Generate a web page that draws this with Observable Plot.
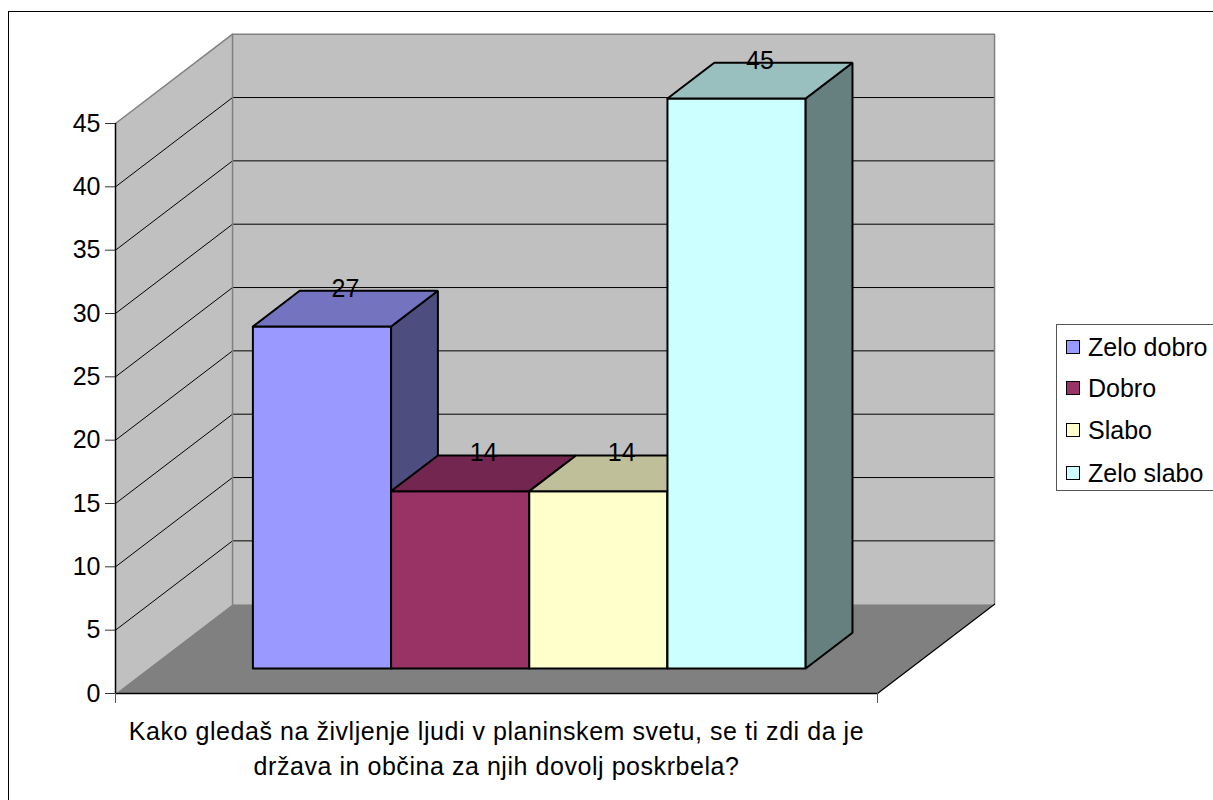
<!DOCTYPE html>
<html><head><meta charset="utf-8">
<script src="https://cdn.jsdelivr.net/npm/d3@7"></script>
<script src="https://cdn.jsdelivr.net/npm/@observablehq/plot@0.6"></script>
<style>
body{margin:0;background:#fff;}
#wrap{position:relative;width:1213px;height:800px;overflow:hidden;font-family:"Liberation Sans",Arial,sans-serif;background:#fff;}
#frame{position:absolute;left:8px;top:11px;width:1400px;height:1000px;border:1px solid #000;box-sizing:border-box;}
#chart{position:absolute;left:0;top:0;}
#legend{position:absolute;left:1056px;top:324px;width:220px;height:167px;border:1.5px solid #555;background:#fff;box-sizing:border-box;}
.item{position:absolute;left:9px;height:30px;display:flex;align-items:center;font-size:25px;color:#000;white-space:nowrap;}
.sw{width:12px;height:12px;border:1.5px solid #000;margin-right:8px;flex:none;}
</style>
</head><body>
<div id="wrap"><div id="frame"></div><div id="chart"></div><div id="legend"></div></div>
<script>
const categories = ["Zelo dobro", "Dobro", "Slabo", "Zelo slabo"];
const values = [27, 14, 14, 45];
const frontColors = ["#9999ff", "#993366", "#ffffcc", "#ccffff"];
const topColors = ["#7373bf", "#732650", "#bfbf99", "#99bfbf"];
const sideColors = ["#4d4d80", "#4d1933", "#808066", "#668080"];
const yTicks = [0, 5, 10, 15, 20, 25, 30, 35, 40, 45];
const axisTitle = "Kako gledaš na življenje ljudi v planinskem svetu, se ti zdi da je\ndržava in občina za njih dovolj poskrbela?";

// 3D layout parameters (in data units)
const gap = 0.757;               // gap on each side of bar group (bar widths)
const W = categories.length + 2 * gap;
const DX = 0.847, DY = 7.05;     // depth offset of back plane
const z0 = 0.28, z1 = 0.68;      // bar depth
const yMax = yTicks[yTicks.length - 1];
const P = (x, v, z) => ({x: x + z * DX, y: v + z * DY});
const poly = pts => [...pts, pts[0]];

const marks = [];
// walls & floor
marks.push(Plot.line(poly([P(0,0,0), P(0,yMax,0), P(0,yMax,1), P(0,0,1)]), {x:"x", y:"y", fill:"#c0c0c0", stroke:"none"}));
marks.push(Plot.line(poly([P(0,0,1), P(0,yMax,1), P(W,yMax,1), P(W,0,1)]), {x:"x", y:"y", fill:"#c0c0c0", stroke:"none"}));
marks.push(Plot.line(poly([P(0,0,0), P(W,0,0), P(W,0,1), P(0,0,1)]), {x:"x", y:"y", fill:"#808080", stroke:"none"}));
// gridlines
const grid = [];
yTicks.filter(v => v > 0 && v < yMax).forEach(v => {
  grid.push({...P(0,v,0), g:v}, {...P(0,v,1), g:v}, {...P(W,v,1), g:v});
});
marks.push(Plot.line(grid, {x:"x", y:"y", z:"g", stroke:"#000", strokeWidth:1}));
// gray wall edges
marks.push(Plot.line([P(0,yMax,0), P(0,yMax,1)], {x:"x", y:"y", stroke:"#808080", strokeWidth:1.5}));
marks.push(Plot.line([P(0,0,1), P(0,yMax,1), P(W,yMax,1), P(W,0,1)], {x:"x", y:"y", stroke:"#808080", strokeWidth:1.5, strokeLinejoin:"miter"}));
// axis lines
marks.push(Plot.ruleX([0], {y1:0, y2:yMax, stroke:"#000", strokeWidth:1.5}));
marks.push(Plot.ruleY([0], {x1:0, x2:W, stroke:"#000", strokeWidth:1.5}));
marks.push(Plot.line([P(W,0,0), P(W,0,1)], {x:"x", y:"y", stroke:"#000", strokeWidth:1.2}));
marks.push(Plot.axisY({ticks:yTicks, tickSize:10, tickPadding:5, fontSize:25, stroke:"#333", fill:"#000", label:null}));
marks.push(Plot.axisX({ticks:[0, W], tickFormat:() => "", tickSize:10, stroke:"#555", label:null}));
// bars
const labels = [];
values.forEach((v, i) => {
  const a = gap + i, b = a + 1;
  const st = {x:"x", y:"y", stroke:"#000", strokeWidth:2, strokeLinejoin:"miter"};
  marks.push(Plot.line(poly([P(a,0,z0), P(a,v,z0), P(b,v,z0), P(b,0,z0)]), {...st, fill:frontColors[i]}));
  marks.push(Plot.line(poly([P(b,0,z0), P(b,v,z0), P(b,v,z1), P(b,0,z1)]), {...st, fill:sideColors[i]}));
  marks.push(Plot.line(poly([P(a,v,z0), P(b,v,z0), P(b,v,z1), P(a,v,z1)]), {...st, fill:topColors[i]}));
  labels.push({...P(a + 0.5, v, (z0 + z1) / 2), t: String(v)});
});
marks.push(Plot.text(labels, {x:"x", y:"y", text:"t", dy:-20, fontSize:25, fill:"#000"}));
marks.push(Plot.text([{x: W / 2, y: 0, t: axisTitle}], {x:"x", y:"y", text:"t", lineAnchor:"top", dy:22, lineHeight:1.39, fontSize:25, fill:"#000"}));

const chart = Plot.plot({
  width: 1213, height: 800,
  marginLeft: 115, marginRight: 336, marginTop: 123, marginBottom: 107,
  x: {domain: [0, W]},
  y: {domain: [0, yMax]},
  style: {fontFamily: '"Liberation Sans", Arial, sans-serif', fontSize: "25px", background: "transparent", overflow: "visible", color: "#000"},
  marks
});
d3.select(chart).selectAll("text")
  .filter(function() { return this.textContent.startsWith("Kako"); })
  .style("letter-spacing", "0.55px");
document.getElementById("chart").appendChild(chart);

const legend = document.getElementById("legend");
const rowCenters = [22, 63, 105, 148];
categories.forEach((c, i) => {
  const d = document.createElement("div");
  d.className = "item";
  d.style.top = (rowCenters[i] - 15) + "px";
  const s = document.createElement("span");
  s.className = "sw"; s.style.background = frontColors[i];
  d.appendChild(s);
  d.appendChild(document.createTextNode(c));
  legend.appendChild(d);
});
</script>
</body></html>
